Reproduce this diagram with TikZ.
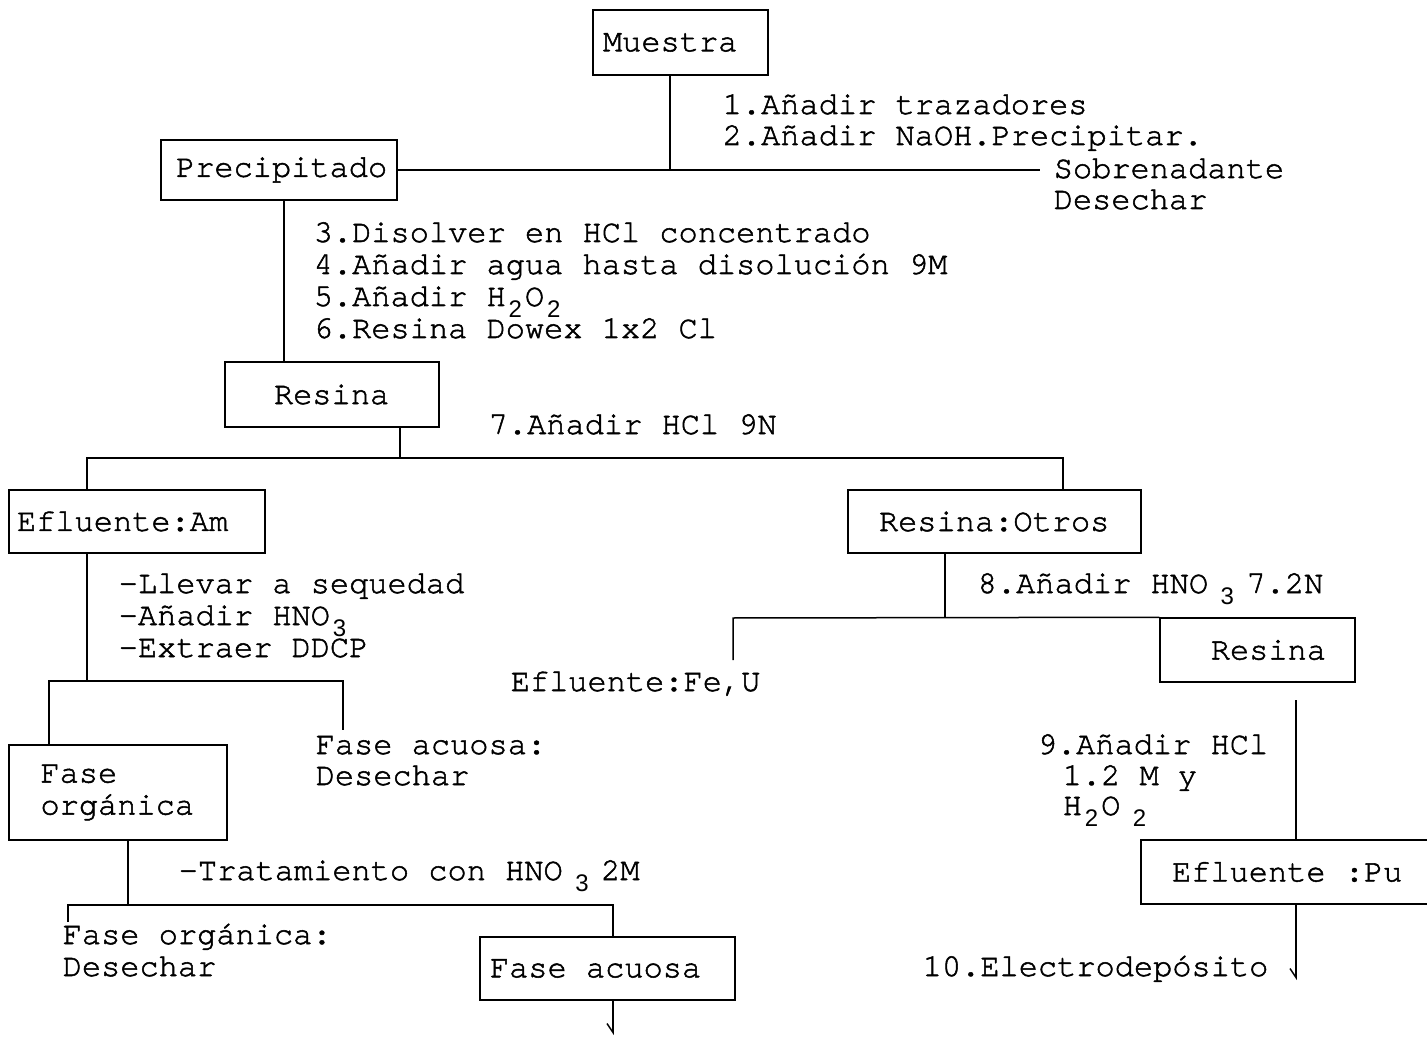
\documentclass[tikz,border=0pt]{standalone}
\usepackage{fontspec}
\setmonofont{TeX Gyre Cursor}[WordSpace={1,0,0},FakeBold=1.6,Ligatures={NoCommon}]
\setsansfont{Liberation Sans}
\usetikzlibrary{arrows.meta}
\newcommand\dgfont{\ttfamily\fontsize{32}{32}\selectfont}
\newcommand\dsub[1]{\makebox[0.6em][c]{\raisebox{-0.36em}{\sffamily\fontsize{24}{24}\selectfont #1}}}
\begin{document}
\begin{tikzpicture}[x=1pt,y=-1pt,line width=1.5pt,
  box/.style={draw,line width=1.5pt,inner sep=0pt,font=\dgfont},
  lbl/.style={inner sep=0pt,anchor=base west,font=\dgfont},
  tip/.style={-{Straight Barb[right,length=9pt,width=12pt]}}]
\useasboundingbox (0,0) rectangle (1427,1040);
% boxes
\node[box,minimum width=175pt,minimum height=65pt] (muestra) at (680.5,42.5) {\makebox[155pt][l]{Muestra}};
\node[box,minimum width=236pt,minimum height=60pt] (precip) at (279,170) {\makebox[212pt][l]{\hspace{3pt}Precipitado}};
\node[box,minimum width=214pt,minimum height=65pt] (resina1) at (332,394.5) {\makebox[116pt][l]{Resina}};
\node[box,minimum width=256pt,minimum height=63pt] (efAm) at (137,521.5) {\makebox[240pt][l]{Efluente:Am}};
\node[box,minimum width=293pt,minimum height=63pt] (resOtros) at (994.5,521.5) {\makebox[231pt][l]{Resina:Otros}};
\node[box,minimum width=195pt,minimum height=64pt] (resina2) at (1257.5,650) {\makebox[137pt][r]{Resina}};
\node[box,minimum width=218pt,minimum height=95pt,inner xsep=31.5pt,text width=155pt,align=left] (faseOrg) at (118,792.5) {Fase\\orgánica};
\node[box,minimum width=255pt,minimum height=63pt] (faseAc) at (607.5,968.5) {\makebox[235pt][l]{Fase acuosa}};
\node[box,minimum width=304pt,minimum height=64pt] (efPu) at (1293,872) {\makebox[242pt][l]{Efluente :Pu}};
% labels
\node[lbl] (t1) at (722,114) {1.Añadir trazadores};
\node[lbl] (t2) at (722,145) {2.Añadir NaOH.Precipitar.};
\node[lbl] (sob) at (1053,178) {Sobrenadante};
\node[lbl] (des1) at (1053,209) {Desechar};
\node[lbl] (t3) at (313,242) {3.Disolver en HCl concentrado};
\node[lbl] (t4) at (313,274) {4.Añadir agua hasta disolución 9M};
\node[lbl] (t5) at (313,306) {5.Añadir H\dsub{2}O\dsub{2}};
\node[lbl] (t6) at (313,338) {6.Resina Dowex 1x2 Cl};
\node[lbl] (t7) at (488,434) {7.Añadir HCl 9N};
\node[lbl] (l1) at (118,593) {-Llevar a sequedad};
\node[lbl] (l2) at (118,625) {-Añadir HNO\dsub{3}};
\node[lbl] (l3) at (118,657) {-Extraer DDCP};
\node[lbl] (fa1) at (315,754) {Fase acuosa:};
\node[lbl] (fa2) at (315,785) {Desechar};
\node[lbl] (t8) at (977,593) {8.Añadir HNO\hspace{0.3em}\dsub{3}\hspace{0.3em}7.2N};
\node[lbl] (efu) at (510,691) {Efluente:Fe,U};
\node[lbl] (t9a) at (1037,754) {9.Añadir HCl};
\node[lbl] (t9b) at (1062,785) {1.2 M y};
\node[lbl] (t9c) at (1062,815) {H\dsub{2}O\hspace{0.3em}\dsub{2}};
\node[lbl] (tr) at (178,880) {-Tratamiento con HNO\hspace{0.3em}\dsub{3}\hspace{0.3em}2M};
\node[lbl] (fo1) at (62,944) {Fase orgánica:};
\node[lbl] (fo2) at (62,976) {Desechar};
\node[lbl] (t10) at (922,976) {10.Electrodepósito};
% junction coordinates
\coordinate (m1) at (670,170);
\coordinate (sobEnd) at (1040,170);
\coordinate (px) at (284,200);
\coordinate (rx) at (400,458);
\coordinate (b7L) at (87,458);
\coordinate (b7R) at (1063,458);
\coordinate (c1) at (87,681);
\coordinate (c1L) at (49,681);
\coordinate (c1R) at (343,681);
\coordinate (c1E) at (343,730);
\coordinate (d1) at (128,905);
\coordinate (d1L) at (68,905);
\coordinate (d1E) at (68,922);
\coordinate (d1R) at (613,905);
\coordinate (acEnd) at (613,1035);
\coordinate (e1) at (945,618);
\coordinate (e1L) at (733,618);
\coordinate (e1E) at (733,660);
\coordinate (f0) at (1296,700);
\coordinate (puEnd) at (1296,980);
% connectors
\draw (muestra.south -| m1) -- (m1);
\draw (precip.east) -- (sobEnd);
\draw (px |- precip.south) -- (px |- resina1.north);
\draw (rx |- resina1.south) -- (rx);
\draw (efAm.north -| b7L) -- (b7L) -- (b7R) -- (resOtros.north -| b7R);
\draw (efAm.south -| c1) -- (c1);
\draw (faseOrg.north -| c1L) -- (c1L) -- (c1R) -- (c1E);
\draw (faseOrg.south -| d1) -- (d1);
\draw (d1E) -- (d1L) -- (d1R) -- (faseAc.north -| d1R);
\draw[tip] (faseAc.south -| acEnd) -- (acEnd);
\draw (resOtros.south -| e1) -- (e1);
\draw (e1E) -- (e1L) -- (resina2.north west);
\draw (f0) -- (efPu.north -| f0);
\draw[tip] (efPu.south -| puEnd) -- (puEnd);
\end{tikzpicture}
\end{document}
